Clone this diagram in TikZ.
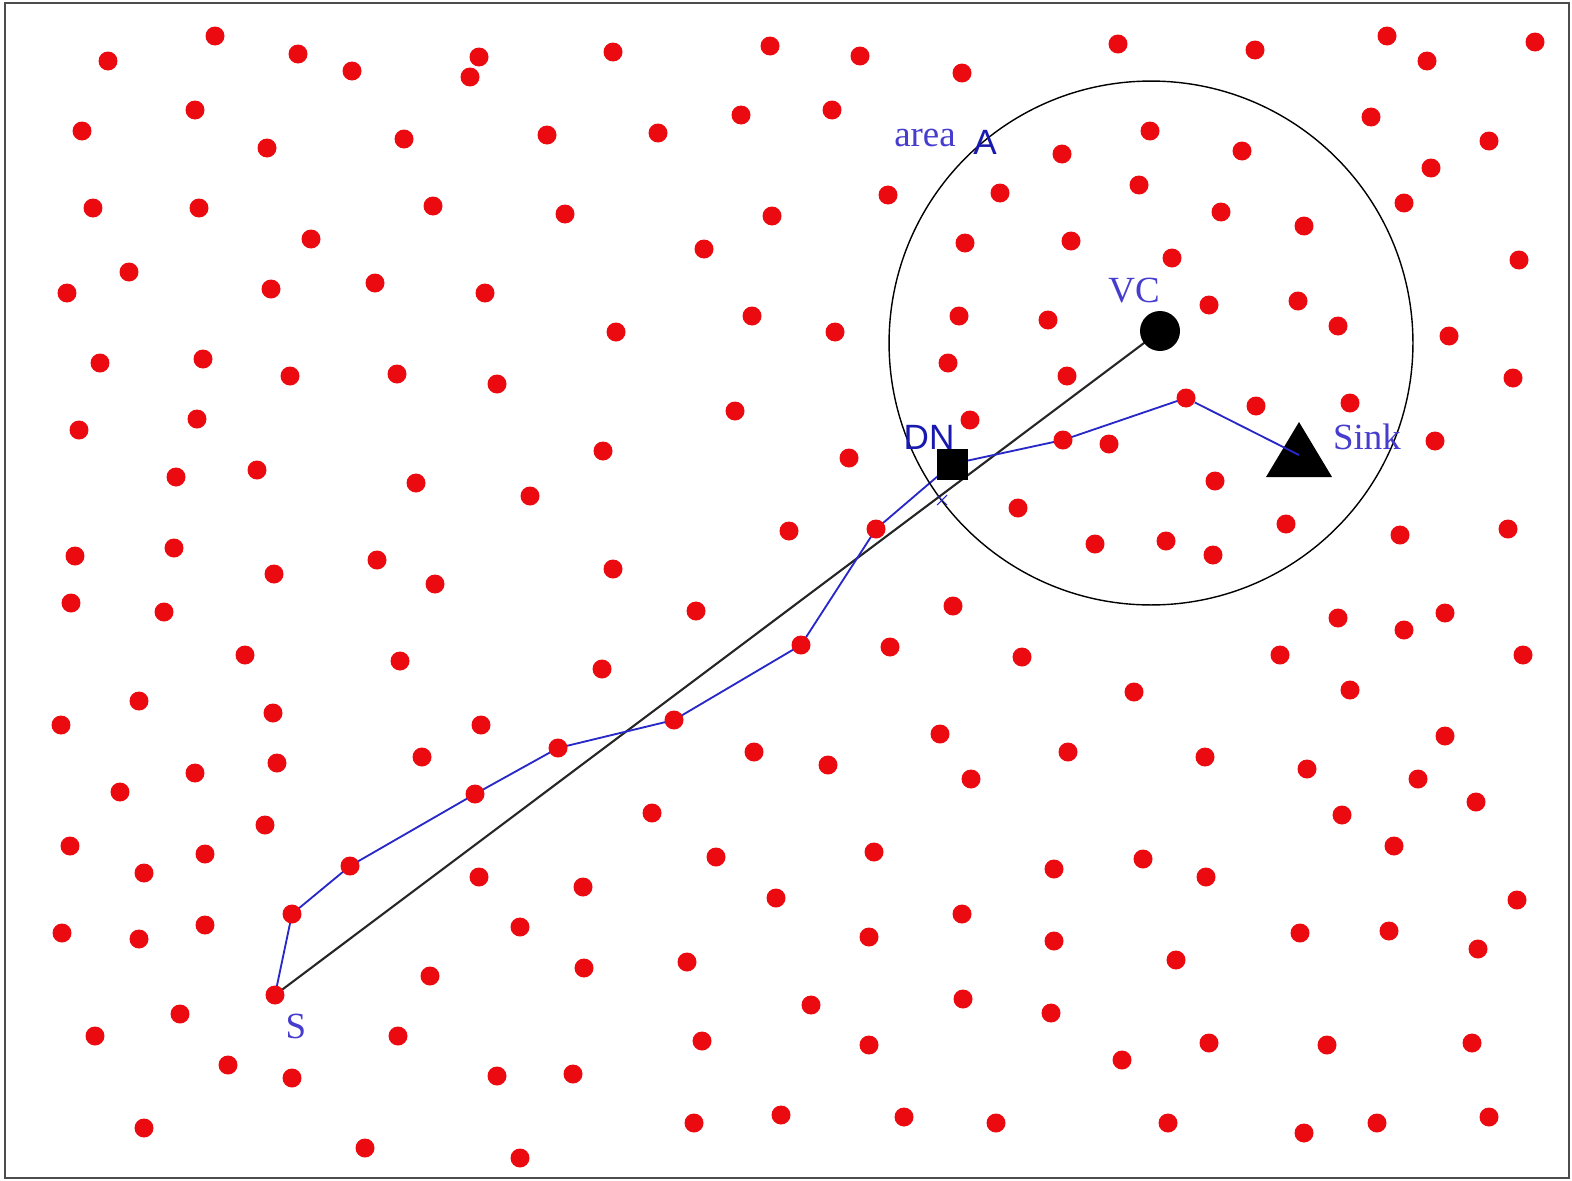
\documentclass[tikz,border=0pt]{standalone}
\usepackage{fontspec}
\setmainfont{Liberation Serif}
\newfontfamily\lblsans{Liberation Sans}
\usepackage{xcolor}
\usetikzlibrary{backgrounds}

\definecolor{dotred}{RGB}{235,10,15}
\definecolor{lblblue}{RGB}{70,60,205}
\definecolor{lbldark}{RGB}{25,25,175}
\definecolor{hopblue}{RGB}{40,40,200}

\tikzset{
  dot/.style={circle,fill=dotred,inner sep=0pt,minimum size=0.38cm},
  lbl/.style={text=lblblue,inner sep=0pt,font=\fontsize{21}{24}\selectfont},
  lblsf/.style={text=lbldark,inner sep=0pt,font=\lblsans\fontsize{20}{24}\selectfont},
  hop/.style={hopblue,line width=1.05pt}
}

\begin{document}
\begin{tikzpicture}[x=0.02cm,y=-0.02cm]
  \useasboundingbox (0,0) rectangle (1572,1180);
  \draw[line width=1.2pt,black!70] (5,3) rectangle (1569,1178);

  % random sensor field
  \foreach \x/\y [count=\i] in {108/61, 215/36, 298/54, 352/71, 479/57, 470/77, 613/52, 770/46, 860/56, 962/73, 1118/44, 1255/50, 1387/36, 1427/61, 1535/42,
      82/131, 195/110, 267/148, 404/139, 547/135, 658/133, 741/115, 832/110, 1062/154, 1150/131, 1242/151, 1371/117, 1489/141,
      93/208, 199/208, 433/206, 565/214, 772/216, 888/195, 1000/193, 1139/185, 1221/212, 1304/226, 1404/203, 1431/168,
      311/239, 129/272, 67/293, 271/289, 375/283, 485/293, 704/249, 965/243, 1071/241, 1172/258, 1519/260,
      616/332, 752/316, 835/332, 959/316, 1048/320, 1209/305, 1298/301, 1338/326, 1449/336,
      100/363, 203/359, 290/376, 397/374, 497/384, 948/363, 1067/376, 1513/378,
      79/430, 197/419, 735/411, 970/420, 1256/406, 1350/403, 1109/444, 1435/441, 603/451,
      176/477, 257/470, 416/483, 530/496, 849/458, 1215/481, 1018/508,
      789/531, 1095/544, 1166/541, 1213/555, 1286/524, 1400/535, 1508/529, 75/556, 174/548, 377/560, 613/569, 274/574, 435/584,
      71/603, 164/612, 696/611, 953/606, 1338/618, 1404/630, 1445/613,
      245/655, 400/661, 602/669, 890/647, 1022/657, 1280/655, 1523/655,
      139/701, 273/713, 61/725, 481/725, 1134/692, 1350/690,
      940/734, 1445/736, 422/757, 754/752, 828/765, 971/779, 1068/752, 1205/757, 1307/769, 1418/779, 195/773, 277/763,
      120/792, 265/825, 652/813, 1342/815, 1476/802,
      70/846, 205/854, 144/873, 479/877, 583/887, 716/857, 874/852, 1054/869, 1143/859, 1206/877, 1394/846,
      776/898, 205/925, 62/933, 139/939, 520/927, 869/937, 962/914, 1054/941, 1300/933, 1389/931, 1478/949, 1517/900,
      430/976, 584/968, 687/962, 1176/960, 811/1005, 963/999, 180/1014,
      95/1036, 398/1036, 702/1041, 869/1045, 1051/1013, 1122/1060, 1209/1043, 1327/1045, 1472/1043, 228/1065, 292/1078, 497/1076, 573/1074,
      144/1128, 365/1148, 520/1158, 694/1123, 781/1115, 904/1117, 996/1123, 1168/1123, 1304/1133, 1377/1123, 1489/1117}
    \node[dot] (n\i) at (\x,\y) {};

  % area A
  \node[draw,circle,line width=0.8pt,inner sep=0pt,minimum size=10.48cm] (areaA) at (1151,343) {};

  % route nodes
  \node[dot] (s) at (275,995) {};
  \node[dot] (h1) at (292,914) {};
  \node[dot] (h2) at (350,866) {};
  \node[dot] (h3) at (475,794) {};
  \node[dot] (h4) at (558,748) {};
  \node[dot] (h5) at (674,720) {};
  \node[dot] (h6) at (801,645) {};
  \node[dot] (h7) at (876,529) {};
  \node[dot] (h8) at (1063,440) {};
  \node[dot] (h9) at (1186,398) {};
  \node[rectangle,fill=black,inner sep=0pt,minimum size=0.62cm] (dn) at (952,464) {};
  \node[circle,fill=black,inner sep=0pt,minimum size=0.8cm] (vc) at (1160,331) {};
  \coordinate (sink) at (1299,455);
  \fill ([shift={(0,-33)}]sink) -- ([shift={(-33,22)}]sink) -- ([shift={(33,22)}]sink) -- cycle;

  \begin{scope}[on background layer]
    \draw[line width=1.2pt,black!85] (s.center) -- (vc.center);
    \draw[hop] (s.center) -- (h1.center) -- (h2.center) -- (h3.center) -- (h4.center) -- (h5.center)
      -- (h6.center) -- (h7.center) -- (dn.center) -- (h8.center) -- (h9.center);
  \end{scope}
  \draw[hop] (h9) -- (sink);
  \coordinate (cross) at (942,500);
  \draw[hopblue,line width=0.6pt] ([shift={(-5,-5)}]cross) -- ([shift={(5,5)}]cross)
    ([shift={(-5,5)}]cross) -- ([shift={(5,-5)}]cross);

  % labels
  \node[lbl] (slbl) at (296,1026) {S};
  \node[lbl] (vclbl) at (1134,291) {VC};
  \node[lblsf] (dnlbl) at (929,437) {DN};
  \node[lbl] (sinklbl) at (1367,437) {Sink};
  \node[lbl] (arealbl) at (925,138) {area};
  \node[lblsf] (albl) at (985,142) {A};
\end{tikzpicture}
\end{document}
